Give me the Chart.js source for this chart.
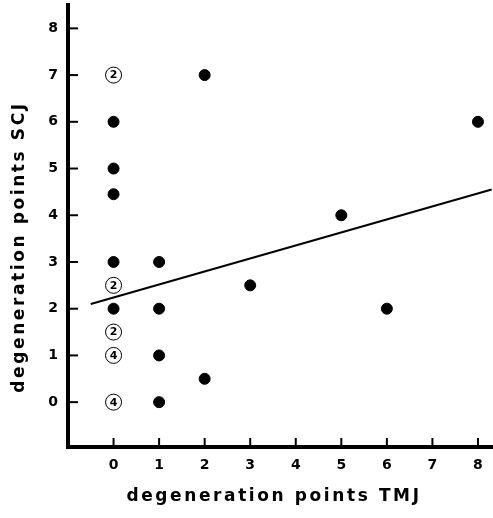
<!DOCTYPE html>
<html>
<head>
<meta charset="utf-8">
<script src="https://cdn.jsdelivr.net/npm/chart.js@4/dist/chart.umd.min.js"></script>
<style>
  html, body { margin: 0; padding: 0; background: #fff; }
  #wrap { width: 493px; height: 518px; }
</style>
</head>
<body>
<div id="wrap"><canvas id="myChart" style="display:block"></canvas></div>
<script>
// single cases (filled dots)
const solidX = [0, 0, 0, 0, 0, 1, 1, 1, 1, 2, 2, 3, 5, 6, 8];
const solidY = [6, 5, 4.45, 3, 2, 3, 2, 1, 0, 7, 0.5, 2.5, 4, 2, 6];

// several cases at one spot (circled counts)
const multiX = [0, 0, 0, 0, 0];
const multiY = [7, 2.5, 1.5, 1, 0];
const multiN = [2, 2, 2, 4, 4];

// regression line end points
const fitX = [-0.5, 8.3];
const fitY = [2.1, 4.55];

const tickValues = [0, 1, 2, 3, 4, 5, 6, 7, 8];
const xTitle = "degeneration points TMJ";
const yTitle = "degeneration points SCJ";

const FONT = "'DejaVu Sans', 'Liberation Sans', sans-serif";

function zip(xs, ys) {
    return xs.map((x, i) => ({ x: x, y: ys[i] }));
}

// inward tick marks, circled counts and spaced axis titles
const extras = {
    id: "extras",
    afterDatasetsDraw(chart) {
        const ctx = chart.ctx;
        const xs = chart.scales.x, ys = chart.scales.y;
        const area = chart.chartArea;
        ctx.save();
        ctx.strokeStyle = "#000";
        ctx.lineWidth = 2;
        tickValues.forEach((v) => {
            const px = xs.getPixelForValue(v);
            ctx.beginPath();
            ctx.moveTo(px, area.bottom);
            ctx.lineTo(px, area.bottom - 9);
            ctx.stroke();
            const py = ys.getPixelForValue(v);
            ctx.beginPath();
            ctx.moveTo(area.left, py);
            ctx.lineTo(area.left + 10, py);
            ctx.stroke();
        });

        const meta = chart.getDatasetMeta(1);
        ctx.fillStyle = "#000";
        ctx.font = "bold 11px " + FONT;
        ctx.textAlign = "center";
        ctx.textBaseline = "middle";
        meta.data.forEach((pt, i) => {
            ctx.fillText(String(multiN[i]), pt.x, pt.y + 0.5);
        });

        ctx.font = "bold 17px " + FONT;
        ctx.letterSpacing = "2.6px";
        ctx.fillText(xTitle, 274, 497);
        ctx.translate(20, 247);
        ctx.rotate(-Math.PI / 2);
        ctx.fillText(yTitle, 0, 0);
        ctx.restore();
    },
};

const data = {
    datasets: [
        {
            type: "scatter",
            data: zip(solidX, solidY),
            backgroundColor: "#000",
            borderColor: "#000",
            pointRadius: 5.5,
            pointHoverRadius: 5.5,
        },
        {
            type: "scatter",
            data: zip(multiX, multiY),
            backgroundColor: "#fff",
            borderColor: "#000",
            borderWidth: 1,
            pointRadius: 8,
            pointHoverRadius: 8,
        },
        {
            type: "line",
            data: zip(fitX, fitY),
            borderColor: "#000",
            borderWidth: 2,
            pointRadius: 0,
            fill: false,
        },
    ],
};

const config = {
    type: "scatter",
    data: data,
    plugins: [extras],
    options: {
        responsive: false,
        animation: false,
        events: [],
        layout: { autoPadding: false, padding: { top: 5, right: 0, left: 0, bottom: 0 } },
        plugins: { legend: { display: false }, tooltip: { enabled: false } },
        scales: {
            x: {
                type: "linear",
                min: -1,
                max: 8.33,
                afterBuildTicks: (s) => { s.ticks = tickValues.map((v) => ({ value: v })); },
                afterFit: (s) => { s.height = 71; s.paddingLeft = 0; s.paddingRight = 0; },
                grid: { display: false, drawTicks: false },
                border: { display: true, color: "#000", width: 4 },
                ticks: { color: "#000", padding: 10, font: { family: FONT, size: 14, weight: "bold" } },
            },
            y: {
                type: "linear",
                min: -0.96,
                max: 8.5,
                afterBuildTicks: (s) => { s.ticks = tickValues.map((v) => ({ value: v })); },
                afterFit: (s) => { s.width = 68; s.paddingTop = 0; s.paddingBottom = 0; },
                grid: { display: false, drawTicks: false },
                border: { display: true, color: "#000", width: 4 },
                ticks: { color: "#000", padding: 10, font: { family: FONT, size: 14, weight: "bold" } },
            },
        },
    },
};

const canvas = document.getElementById("myChart");
canvas.width = 493;
canvas.height = 518;
const myChart = new Chart(canvas, config);
</script>
</body>
</html>
